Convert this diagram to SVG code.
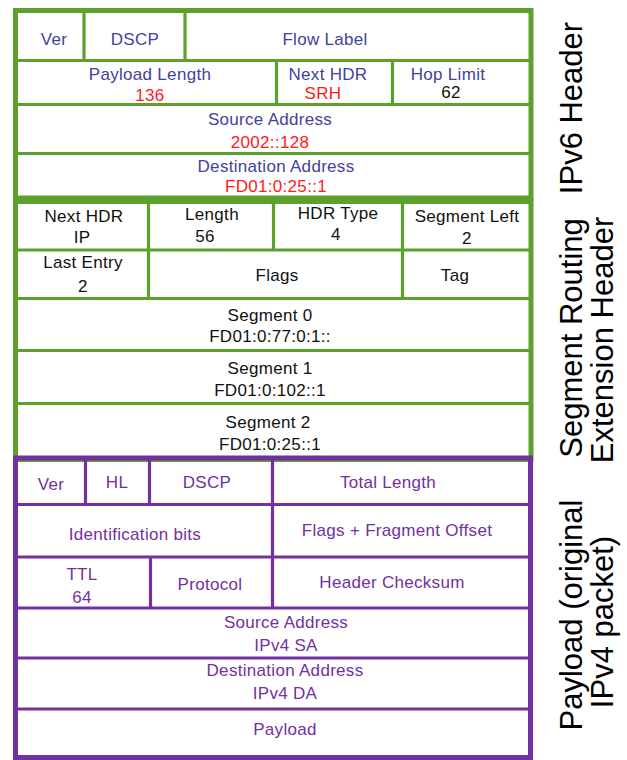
<svg xmlns="http://www.w3.org/2000/svg" width="627" height="760" viewBox="0 0 627 760">
<style>
text{font-family:"Liberation Sans",Arial,sans-serif;font-size:17px;text-anchor:middle;letter-spacing:0.3px}
.g{fill:none;stroke:#5DA12D}
.p{fill:none;stroke:#7230A0}
.ob{stroke-width:5}
.ln{stroke-width:3.2}
.b{fill:#42429E}
.r{fill:#FF1A1A}
.k{fill:#111111}
.v{fill:#7230A0}
.side{font-size:31px;fill:#000;letter-spacing:0}
</style>
<rect width="627" height="760" fill="#ffffff"/>

<g id="ipv6-header">
<rect class="g ob" x="15.5" y="10.5" width="515.5" height="187.5"/>
<path class="g ln" d="M17 60.5H529M17 104.5H529M17 153.5H529M84 12V60M185 12V60M276.5 61V104M392.5 61V104"/>
<text class="b" x="54" y="45">Ver</text>
<text class="b" x="135" y="45">DSCP</text>
<text class="b" x="325" y="45">Flow Label</text>
<text class="b" x="150" y="80">Payload Length</text>
<text class="r" x="150" y="101">136</text>
<text class="b" x="328" y="80">Next HDR</text>
<text class="r" x="323" y="99">SRH</text>
<text class="b" x="448" y="80">Hop Limit</text>
<text class="k" x="451" y="98">62</text>
<text class="b" x="270" y="125">Source Address</text>
<text class="r" x="270" y="148">2002::128</text>
<text class="b" x="276" y="172">Destination Address</text>
<text class="r" x="276" y="192">FD01:0:25::1</text>
</g>

<g id="srh">
<rect class="g ob" x="15.5" y="201.5" width="515.5" height="258"/>
<path class="g ln" d="M17 250H529M17 298.5H529M17 350.5H529M17 403.5H529M148.5 203V298M273.5 203V250M402.5 203V298"/>
<text class="k" x="84" y="222">Next HDR</text>
<text class="k" x="82" y="243">IP</text>
<text class="k" x="212" y="220">Length</text>
<text class="k" x="205" y="242">56</text>
<text class="k" x="338" y="219">HDR Type</text>
<text class="k" x="336" y="240">4</text>
<text class="k" x="467" y="222">Segment Left</text>
<text class="k" x="467" y="244">2</text>
<text class="k" x="83" y="268">Last Entry</text>
<text class="k" x="83" y="292">2</text>
<text class="k" x="277" y="281">Flags</text>
<text class="k" x="455" y="281">Tag</text>
<text class="k" x="270" y="321">Segment 0</text>
<text class="k" x="270" y="342">FD01:0:77:0:1::</text>
<text class="k" x="270" y="374">Segment 1</text>
<text class="k" x="270" y="396">FD01:0:102::1</text>
<text class="k" x="268" y="428">Segment 2</text>
<text class="k" x="270" y="450">FD01:0:25::1</text>
</g>

<g id="ipv4-payload">
<rect class="p ob" x="15.5" y="458" width="515" height="299.5"/>
<path class="p ln" d="M17 504.5H529M17 557H529M17 608H529M17 658H529M17 709H529M85.5 460V504M149.5 460V504M272.5 460V608M150.5 557V608"/>
<text class="v" x="51" y="490">Ver</text>
<text class="v" x="117" y="488">HL</text>
<text class="v" x="207" y="488">DSCP</text>
<text class="v" x="388" y="488">Total Length</text>
<text class="v" x="135" y="540">Identification bits</text>
<text class="v" x="397" y="536">Flags + Fragment Offset</text>
<text class="v" x="82" y="580">TTL</text>
<text class="v" x="82" y="603">64</text>
<text class="v" x="210" y="590">Protocol</text>
<text class="v" x="392" y="588">Header Checksum</text>
<text class="v" x="286" y="628">Source Address</text>
<text class="v" x="286" y="651">IPv4 SA</text>
<text class="v" x="285" y="676">Destination Address</text>
<text class="v" x="285" y="699">IPv4 DA</text>
<text class="v" x="285" y="735">Payload</text>
</g>

<g id="side-labels">
<text class="side" transform="translate(582,108) rotate(-90)">IPv6 Header</text>
<text class="side" transform="translate(582,338) rotate(-90)">Segment Routing</text>
<text class="side" transform="translate(613,340) rotate(-90)">Extension Header</text>
<text class="side" transform="translate(582,615) rotate(-90)">Payload (original</text>
<text class="side" transform="translate(613,622) rotate(-90)">IPv4 packet)</text>
</g>
<g id="connectors"></g>
</svg>
